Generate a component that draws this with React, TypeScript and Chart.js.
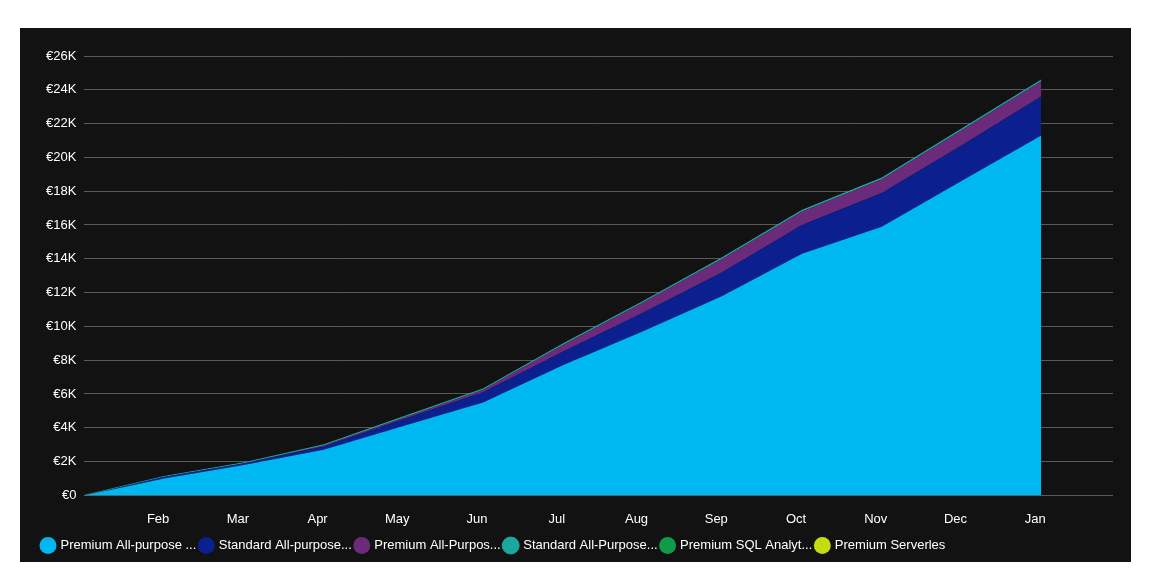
import React, { useEffect, useRef } from "react";
import { Chart, registerables } from "chart.js";
Chart.register(...registerables);

const monthLabels = ["", "Feb", "Mar", "Apr", "May", "Jun", "Jul", "Aug", "Sep", "Oct", "Nov", "Dec", "Jan"];
const seriesNames = ["Premium All-purpose ...", "Standard All-purpose...", "Premium All-Purpos...", "Standard All-Purpose...", "Premium SQL Analyt...", "Premium Serverles"];
const seriesColors = ["#00b8f1", "#0b1f8f", "#6b2a7a", "#1aa89a", "#119a4a", "#c4dc10"];
const premiumAllPurpose = [0, 1.0, 1.8, 2.7, 4.1, 5.5, 7.7, 9.7, 11.8, 14.3, 15.9, 18.6, 21.3];
const standardAllPurpose = [0, 0.1, 0.1, 0.2, 0.4, 0.6, 0.8, 1.1, 1.4, 1.7, 2.0, 2.1, 2.3];
const premiumAllPurpos2 = [0, 0, 0, 0.05, 0.1, 0.15, 0.4, 0.6, 0.8, 0.8, 0.8, 0.9, 0.9];
const standardAllPurpose2 = [0, 0.02, 0.03, 0.04, 0.05, 0.05, 0.06, 0.06, 0.07, 0.07, 0.08, 0.08, 0.08];
const premiumSql = [0, 0, 0, 0, 0, 0, 0, 0, 0, 0, 0, 0, 0];
const premiumServerless = [0, 0, 0, 0, 0, 0, 0, 0, 0, 0, 0, 0, 0];
const allSeries = [premiumAllPurpose, standardAllPurpose, premiumAllPurpos2, standardAllPurpose2, premiumSql, premiumServerless];

export default function App() {
  const ref = useRef<HTMLCanvasElement>(null);
  useEffect(() => {
    const chart = new Chart(ref.current!, {
      type: "line",
      data: {
        datasets: allSeries.map((vals, i) => ({
          label: seriesNames[i],
          data: vals.map((v, j) => ({ x: j, y: v * 1000 })),
          backgroundColor: seriesColors[i],
          borderColor: seriesColors[i],
          borderWidth: i === 3 ? 1 : 0,
          fill: i === 0 ? "origin" : "-1",
          pointRadius: 0,
          tension: 0,
        })),
      },
      options: {
        animation: false,
        responsive: false,
        layout: { padding: { left: 18, right: 18, top: 28, bottom: 8 } },
        scales: {
          x: {
            type: "linear",
            min: 0,
            max: 12.9,
            grid: { display: false },
            border: { display: false },
            afterBuildTicks: (axis: any) => { axis.ticks = [1,2,3,4,5,6,7,8,9,10,11,12].map(v => ({ value: v })); },
            ticks: {
              color: "#ffffff",
              font: { family: "Liberation Sans", size: 13 },
              padding: 8,
              maxRotation: 0,
              labelOffset: -6,
              callback: (v: any) => monthLabels[v] ?? "",
            },
          },
          y: {
            stacked: true,
            min: 0,
            max: 26000,
            grid: { color: "#5a5a5a", lineWidth: 1, drawTicks: false },
            border: { display: false },
            ticks: {
              stepSize: 2000,
              color: "#ffffff",
              padding: 8,
              font: { family: "Liberation Sans", size: 13 },
              callback: (v: any) => (v === 0 ? "€0" : "€" + v / 1000 + "K"),
            },
          },
        },
        plugins: {
          legend: {
            position: "bottom",
            align: "start",
            labels: {
              color: "#ffffff",
              usePointStyle: true,
              pointStyle: "circle",
              boxWidth: 12,
              boxHeight: 12,
              padding: 4,
              font: { family: "Liberation Sans", size: 13 },
            },
          },
          tooltip: { enabled: false },
        },
      },
    });
    return () => chart.destroy();
  }, []);
  return (
    <div style={{ position: "relative", width: 1144, height: 554 }}>
      <div style={{ position: "absolute", left: 12, top: 20, width: 1111, height: 542, background: "#121212", overflow: "hidden" }}>
        <canvas ref={ref} width={1111} height={542} />
      </div>
    </div>
  );
}
